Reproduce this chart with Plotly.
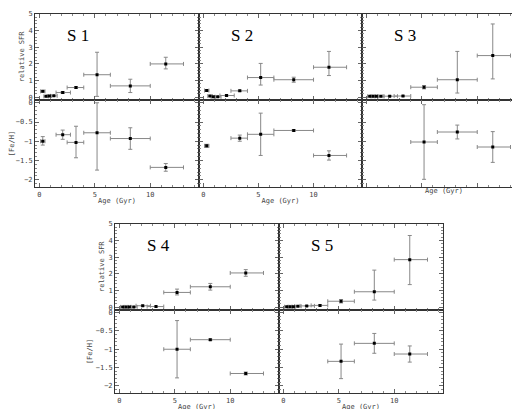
import plotly.graph_objects as go

W, H = 520, 409
age = [0.3, 0.6, 0.9, 1.3, 2.1, 3.3, 5.2, 8.2, 11.4]
age_lo = [0.1, 0.4, 0.7, 1.0, 1.5, 2.5, 4.0, 6.4, 10.0]
age_hi = [0.5, 0.8, 1.1, 1.6, 2.8, 4.0, 6.4, 10.0, 13.0]

# SFR values per field: value, err+, err-
sfr = {
    "S 1": ([0.35, 0.05, 0.07, 0.08, 0.28, 0.58, 1.35, 0.68, 2.0],
            [0.05, 0.02, 0.02, 0.02, 0.06, 0.05, 1.35, 0.4, 0.4],
            [0.05, 0.02, 0.02, 0.02, 0.06, 0.05, 1.3, 0.4, 0.3]),
    "S 2": ([0.4, 0.07, 0.02, 0.02, 0.1, 0.38, 1.18, 1.05, 1.8],
            [0.05, 0.02, 0.01, 0.01, 0.03, 0.04, 0.85, 0.15, 0.95],
            [0.05, 0.02, 0.01, 0.01, 0.03, 0.04, 0.45, 0.15, 0.5]),
    "S 3": ([0.05, 0.05, 0.05, 0.05, 0.06, 0.07, 0.6, 1.05, 2.5],
            [0.02, 0.02, 0.02, 0.02, 0.02, 0.02, 0.1, 1.7, 1.9],
            [0.02, 0.02, 0.02, 0.02, 0.02, 0.02, 0.1, 0.8, 1.4]),
    "S 4": ([0.01, 0.01, 0.01, 0.01, 0.08, 0.03, 0.88, 1.22, 2.05],
            [0.02, 0.02, 0.02, 0.02, 0.03, 0.02, 0.2, 0.2, 0.2],
            [0.02, 0.02, 0.02, 0.02, 0.03, 0.02, 0.15, 0.2, 0.2]),
    "S 5": ([0.02, 0.02, 0.02, 0.05, 0.07, 0.1, 0.35, 0.92, 2.85],
            [0.02, 0.02, 0.02, 0.02, 0.02, 0.03, 0.1, 1.3, 1.45],
            [0.02, 0.02, 0.02, 0.02, 0.02, 0.03, 0.1, 0.5, 1.5]),
}
# [Fe/H]: age index, value, err+, err-
feh = {
    "S 1": ([0, 4, 5, 6, 7, 8], [-1.0, -0.83, -1.03, -0.78, -0.93, -1.68],
            [0.12, 0.12, 0.42, 0.78, 0.28, 0.1], [0.1, 0.12, 0.4, 0.97, 0.28, 0.1]),
    "S 2": ([0, 5, 6, 7, 8], [-1.12, -0.92, -0.82, -0.72, -1.37],
            [0.04, 0.08, 0.55, 0.02, 0.12], [0.04, 0.08, 0.55, 0.02, 0.12]),
    "S 3": ([6, 7, 8], [-1.02, -0.76, -1.15], [0.97, 0.18, 0.4], [0.97, 0.18, 0.4]),
    "S 4": ([6, 7, 8], [-1.0, -0.74, -1.66], [0.78, 0.02, 0.04], [0.78, 0.02, 0.04]),
    "S 5": ([6, 7, 8], [-1.33, -0.84, -1.13], [0.47, 0.27, 0.22], [0.47, 0.27, 0.22]),
}

# panel pixel boxes: x0, x1, ytop, ymid, ybot, left labels, x labels
panels = {
    "S 1": (27, 191, 2, 89, 178, True, True),
    "S 2": (191, 354, 2, 89, 178, False, True),
    "S 3": (354, 518, 2, 89, 178, False, False),
    "S 4": (107, 271, 215, 302, 387, True, True),
    "S 5": (271, 435, 215, 302, 387, False, True),
}

fig = go.Figure()
FONT = dict(family="DejaVu Sans Mono", size=7, color="#444")
ax = dict(showgrid=False, zeroline=False, showline=True, linecolor="#333", linewidth=1,
          mirror="ticks", ticks="inside", ticklen=4, tickcolor="#666",
          minor=dict(ticks="inside", ticklen=2, tickcolor="#888"), tickfont=FONT)
n = 0
for name, (x0, x1, yt, ym, yb, leftlab, xlab) in panels.items():
    for part in ("sfr", "feh"):
        n += 1
        xa, ya = f"x{n}", f"y{n}"
        if part == "sfr":
            v, ep, em = sfr[name]
            xs = age
            xlo = [a - l for a, l in zip(age, age_lo)]
            xhi = [h - a for a, h in zip(age, age_hi)]
            ydom = [1 - ym / H, 1 - yt / H]
            yr = [-0.15, 5.0]
            ytv = [0, 1, 2, 3, 4, 5]
            ytitle = "relative SFR"
        else:
            idx, v, ep, em = feh[name]
            xs = [age[i] for i in idx]
            xlo = [age[i] - age_lo[i] for i in idx]
            xhi = [age_hi[i] - age[i] for i in idx]
            ydom = [1 - yb / H, 1 - ym / H]
            yr = [-2.2, 0.08]
            ytv = [0, -0.5, -1, -1.5, -2]
            ytitle = "[Fe/H]"
        fig.add_trace(go.Scatter(
            x=xs, y=v, mode="markers", xaxis=xa, yaxis=ya, showlegend=False,
            marker=dict(symbol="square", size=3, color="black"),
            error_x=dict(type="data", symmetric=False, array=xhi, arrayminus=xlo,
                         color="#888", thickness=1, width=2),
            error_y=dict(type="data", symmetric=False, array=ep, arrayminus=em,
                         color="#888", thickness=1, width=2)))
        showx = part == "feh" and xlab
        fig.layout[f"xaxis{n}"] = dict(ax, domain=[x0 / W, x1 / W], range=[-0.4, 14.4],
                                       anchor=ya, tickvals=[0, 5, 10], showticklabels=showx,
                                       minor=dict(ax["minor"], dtick=1),
                                       title=dict(text="Age (Gyr)" if part == "feh" else "",
                                                  font=FONT, standoff=0))
        fig.layout[f"yaxis{n}"] = dict(ax, domain=ydom, range=yr, anchor=xa, tickvals=ytv,
                                       showticklabels=leftlab,
                                       minor=dict(ax["minor"], dtick=0.1 if part == "feh" else 0.2),
                                       title=dict(text=ytitle if leftlab else "", font=FONT,
                                                  standoff=2))
    fig.add_annotation(text=name, xref="paper", yref="paper",
                       x=(x0 + 30) / W, y=1 - (yt + 10) / H, xanchor="left", yanchor="top",
                       showarrow=False, font=dict(family="Liberation Serif", size=17, color="black"))

fig.update_layout(width=W, height=H, margin=dict(l=0, r=0, t=0, b=0),
                  plot_bgcolor="white", paper_bgcolor="white")
fig.write_html("out.html")
